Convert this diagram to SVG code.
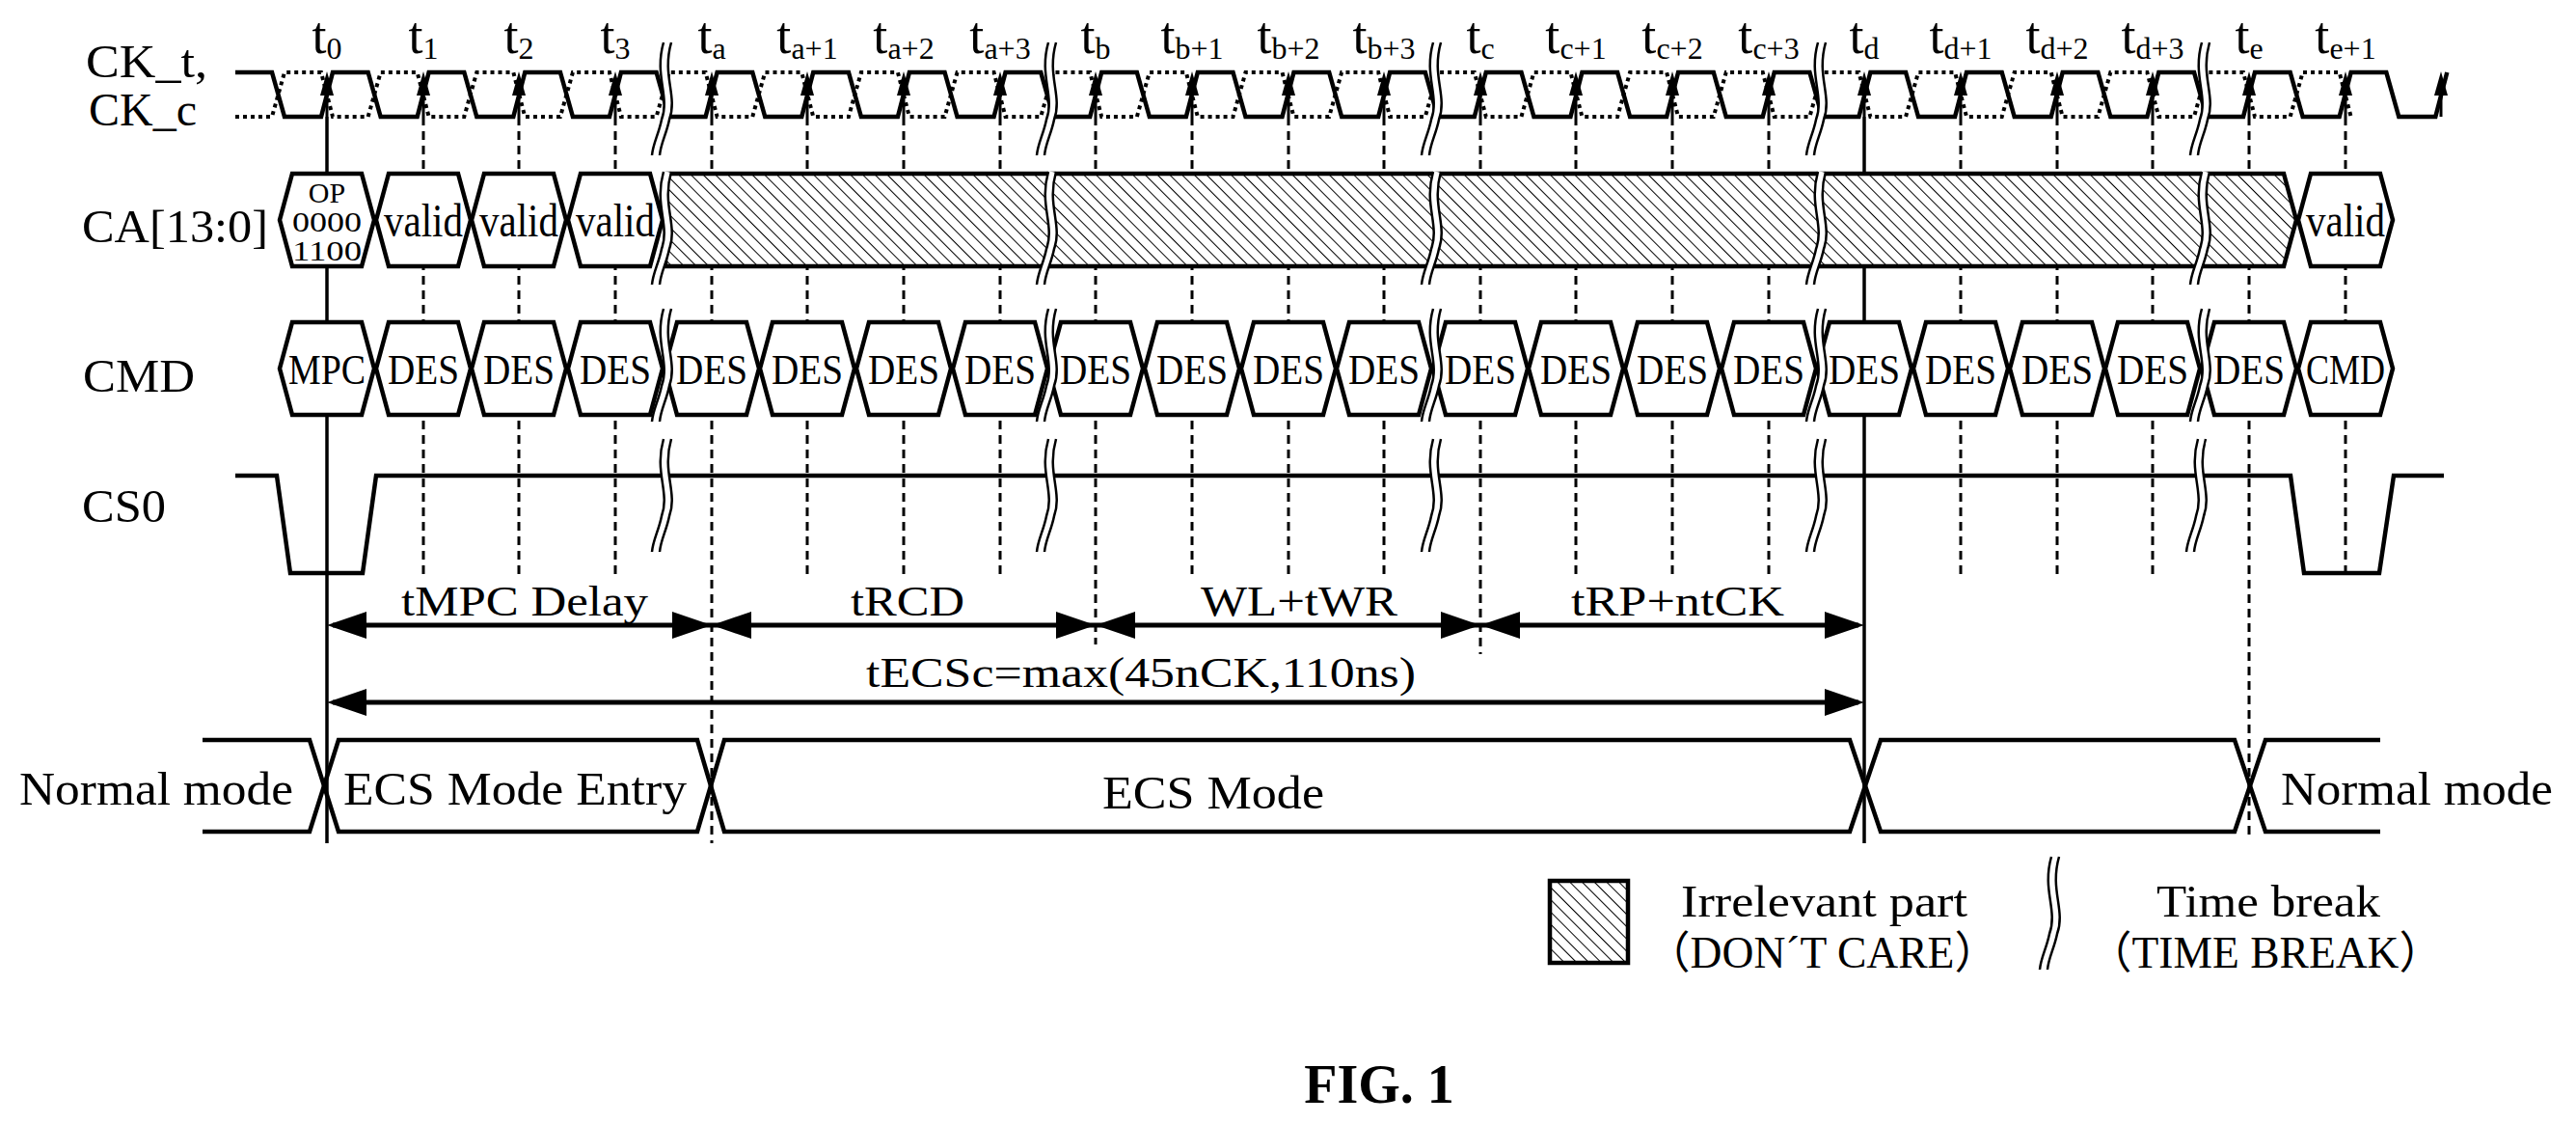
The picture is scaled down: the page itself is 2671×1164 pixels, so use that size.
<svg xmlns="http://www.w3.org/2000/svg" xmlns:xlink="http://www.w3.org/1999/xlink" width="2671" height="1164" viewBox="0 0 2671 1164">
<style>
.t{font-family:"Liberation Serif","Noto Sans CJK SC",serif;fill:#000}
.w{fill:none;stroke:#000;stroke-width:4.5;stroke-linejoin:miter}
.dot{fill:none;stroke:#000;stroke-width:4;stroke-dasharray:4 4}
.dash{stroke:#000;stroke-width:3;stroke-dasharray:9 6;fill:none}
.sol{stroke:#000;stroke-width:3.5;fill:none}
.cell{fill:#fff;stroke:#000;stroke-width:4.5}
.bl{fill:none;stroke:#000;stroke-width:2.5}
.dim{stroke:#000;stroke-width:5;fill:none}
</style>
<defs>
<pattern id="hatch" width="9" height="9" patternUnits="userSpaceOnUse" patternTransform="rotate(-45)">
<rect width="9" height="9" fill="#fff"/><line x1="0" y1="0" x2="0" y2="9" stroke="#000" stroke-width="2"/>
</pattern>
<g id="ckarrow"><line x1="0" y1="121" x2="0" y2="94" stroke="#000" stroke-width="3"/><polygon points="0,74 -7,99 7,99" fill="#000"/></g>
<polygon id="hexCA" class="cell" points="1,228 14,180 86,180 99,228 86,276 14,276"/>
<polygon id="hexCMD" class="cell" points="1,382 14,334 86,334 99,382 86,430 14,430"/>
<g id="brk">
<path d="M9,0 C-1,35 16,55 7,80 C4,95 -2,105 -3,117" stroke="#fff" stroke-width="8" fill="none"/>
<path d="M5,0 C-5,35 12,55 3,80 C0,95 -6,105 -7,117" class="bl"/>
<path d="M13,0 C3,35 20,55 11,80 C8,95 2,105 1,117" class="bl"/>
</g>
</defs>

<g id="labels">
<text class="t" x="89" y="80" font-size="48" textLength="126" lengthAdjust="spacingAndGlyphs">CK_t,</text>
<text class="t" x="92" y="130" font-size="48" textLength="112" lengthAdjust="spacingAndGlyphs">CK_c</text>
<text class="t" x="85" y="251" font-size="48" textLength="193" lengthAdjust="spacingAndGlyphs">CA[13:0]</text>
<text class="t" x="86" y="406" font-size="48" textLength="116" lengthAdjust="spacingAndGlyphs">CMD</text>
<text class="t" x="85" y="541" font-size="48" textLength="87" lengthAdjust="spacingAndGlyphs">CS0</text>
</g>

<g id="ticks" class="t" font-size="54" text-anchor="middle">
<text x="339" y="55">t<tspan font-size="32" dy="6">0</tspan></text>
<text x="439" y="55">t<tspan font-size="32" dy="6">1</tspan></text>
<text x="538" y="55">t<tspan font-size="32" dy="6">2</tspan></text>
<text x="638" y="55">t<tspan font-size="32" dy="6">3</tspan></text>
<text x="738" y="55">t<tspan font-size="32" dy="6">a</tspan></text>
<text x="837" y="55">t<tspan font-size="32" dy="6">a+1</tspan></text>
<text x="937" y="55">t<tspan font-size="32" dy="6">a+2</tspan></text>
<text x="1037" y="55">t<tspan font-size="32" dy="6">a+3</tspan></text>
<text x="1136" y="55">t<tspan font-size="32" dy="6">b</tspan></text>
<text x="1236" y="55">t<tspan font-size="32" dy="6">b+1</tspan></text>
<text x="1336" y="55">t<tspan font-size="32" dy="6">b+2</tspan></text>
<text x="1435" y="55">t<tspan font-size="32" dy="6">b+3</tspan></text>
<text x="1535" y="55">t<tspan font-size="32" dy="6">c</tspan></text>
<text x="1634" y="55">t<tspan font-size="32" dy="6">c+1</tspan></text>
<text x="1734" y="55">t<tspan font-size="32" dy="6">c+2</tspan></text>
<text x="1834" y="55">t<tspan font-size="32" dy="6">c+3</tspan></text>
<text x="1933" y="55">t<tspan font-size="32" dy="6">d</tspan></text>
<text x="2033" y="55">t<tspan font-size="32" dy="6">d+1</tspan></text>
<text x="2133" y="55">t<tspan font-size="32" dy="6">d+2</tspan></text>
<text x="2232" y="55">t<tspan font-size="32" dy="6">d+3</tspan></text>
<text x="2332" y="55">t<tspan font-size="32" dy="6">e</tspan></text>
<text x="2432" y="55">t<tspan font-size="32" dy="6">e+1</tspan></text>
</g>

<g id="connectors">
<g id="verticals">
<line class="sol" x1="339" y1="121" x2="339" y2="874"/>
<line class="sol" x1="1933" y1="121" x2="1933" y2="874"/>
<line class="dash" x1="439" y1="121" x2="439" y2="595"/>
<line class="dash" x1="538" y1="121" x2="538" y2="595"/>
<line class="dash" x1="638" y1="121" x2="638" y2="595"/>
<line class="dash" x1="738" y1="121" x2="738" y2="874"/>
<line class="dash" x1="837" y1="121" x2="837" y2="595"/>
<line class="dash" x1="937" y1="121" x2="937" y2="595"/>
<line class="dash" x1="1037" y1="121" x2="1037" y2="595"/>
<line class="dash" x1="1136" y1="121" x2="1136" y2="668"/>
<line class="dash" x1="1236" y1="121" x2="1236" y2="595"/>
<line class="dash" x1="1336" y1="121" x2="1336" y2="595"/>
<line class="dash" x1="1435" y1="121" x2="1435" y2="595"/>
<line class="dash" x1="1535" y1="121" x2="1535" y2="678"/>
<line class="dash" x1="1634" y1="121" x2="1634" y2="595"/>
<line class="dash" x1="1734" y1="121" x2="1734" y2="595"/>
<line class="dash" x1="1834" y1="121" x2="1834" y2="595"/>
<line class="dash" x1="2033" y1="121" x2="2033" y2="595"/>
<line class="dash" x1="2133" y1="121" x2="2133" y2="595"/>
<line class="dash" x1="2232" y1="121" x2="2232" y2="595"/>
<line class="dash" x1="2332" y1="121" x2="2332" y2="866"/>
<line class="dash" x1="2432" y1="121" x2="2432" y2="600"/>
</g>
<g id="dims">
<line class="dim" x1="345" y1="648" x2="1927" y2="648"/>
<polygon points="339,648 380,634 380,662"/><polygon points="738,648 697,634 697,662"/>
<polygon points="738,648 779,634 779,662"/><polygon points="1136,648 1095,634 1095,662"/>
<polygon points="1136,648 1177,634 1177,662"/><polygon points="1535,648 1494,634 1494,662"/>
<polygon points="1535,648 1576,634 1576,662"/><polygon points="1933,648 1892,634 1892,662"/>
<line class="dim" x1="345" y1="728" x2="1927" y2="728"/>
<polygon points="339,728 380,714 380,742"/><polygon points="1933,728 1892,714 1892,742"/>
</g>
</g>

<g id="clock">
<path class="w" d="M244,75 H282 l13,46 h38 l12,-46 h36.65 l13,46 h38 l12,-46 h36.65 l13,46 h38 l12,-46 h36.65 l13,46 h38 l12,-46 h36.65 l13,46 h38 l12,-46 h36.65 l13,46 h38 l12,-46 h36.65 l13,46 h38 l12,-46 h36.65 l13,46 h38 l12,-46 h36.65 l13,46 h38 l12,-46 h36.65 l13,46 h38 l12,-46 h36.65 l13,46 h38 l12,-46 h36.65 l13,46 h38 l12,-46 h36.65 l13,46 h38 l12,-46 h36.65 l13,46 h38 l12,-46 h36.65 l13,46 h38 l12,-46 h36.65 l13,46 h38 l12,-46 h36.65 l13,46 h38 l12,-46 h36.65 l13,46 h38 l12,-46 h36.65 l13,46 h38 l12,-46 h36.65 l13,46 h38 l12,-46 h36.65 l13,46 h38 l12,-46 h36.65 l13,46 h38 l12,-46 h36.65 l13,46 h38 l12,-46"/>
<path class="dot" d="M244,121 H282 l13,-46 h38 l12,46 h36.65 l13,-46 h38 l12,46 h36.65 l13,-46 h38 l12,46 h36.65 l13,-46 h38 l12,46 h36.65 l13,-46 h38 l12,46 h36.65 l13,-46 h38 l12,46 h36.65 l13,-46 h38 l12,46 h36.65 l13,-46 h38 l12,46 h36.65 l13,-46 h38 l12,46 h36.65 l13,-46 h38 l12,46 h36.65 l13,-46 h38 l12,46 h36.65 l13,-46 h38 l12,46 h36.65 l13,-46 h38 l12,46 h36.65 l13,-46 h38 l12,46 h36.65 l13,-46 h38 l12,46 h36.65 l13,-46 h38 l12,46 h36.65 l13,-46 h38 l12,46 h36.65 l13,-46 h38 l12,46 h36.65 l13,-46 h38 l12,46 h36.65 l13,-46 h38 l12,46 h36.65 l13,-46 h38 l12,46 h36.65 l13,-46 h38 l12,46"/>
<use href="#ckarrow" x="339"/><use href="#ckarrow" x="439"/><use href="#ckarrow" x="538"/><use href="#ckarrow" x="638"/>
<use href="#ckarrow" x="738"/><use href="#ckarrow" x="837"/><use href="#ckarrow" x="937"/><use href="#ckarrow" x="1037"/>
<use href="#ckarrow" x="1136"/><use href="#ckarrow" x="1236"/><use href="#ckarrow" x="1336"/><use href="#ckarrow" x="1435"/>
<use href="#ckarrow" x="1535"/><use href="#ckarrow" x="1634"/><use href="#ckarrow" x="1734"/><use href="#ckarrow" x="1834"/>
<use href="#ckarrow" x="1933"/><use href="#ckarrow" x="2033"/><use href="#ckarrow" x="2133"/><use href="#ckarrow" x="2232"/>
<use href="#ckarrow" x="2332"/><use href="#ckarrow" x="2432"/><use href="#ckarrow" x="2531"/>
</g>

<g id="ca">
<use href="#hexCA" x="289"/><use href="#hexCA" x="389"/><use href="#hexCA" x="488"/><use href="#hexCA" x="588"/>
<polygon points="690,180 2368,180 2381,228 2368,276 690,276" fill="url(#hatch)" stroke="#000" stroke-width="4.5"/>
<use href="#hexCA" x="2382"/>
<g class="t" text-anchor="middle">
<text x="339" y="210" font-size="30">OP</text>
<text x="339" y="240" font-size="30" textLength="72" lengthAdjust="spacingAndGlyphs">0000</text>
<text x="339" y="270" font-size="30" textLength="72" lengthAdjust="spacingAndGlyphs">1100</text>
<text x="439" y="245" font-size="48" textLength="82" lengthAdjust="spacingAndGlyphs">valid</text>
<text x="538" y="245" font-size="48" textLength="82" lengthAdjust="spacingAndGlyphs">valid</text>
<text x="638" y="245" font-size="48" textLength="82" lengthAdjust="spacingAndGlyphs">valid</text>
<text x="2432" y="245" font-size="48" textLength="82" lengthAdjust="spacingAndGlyphs">valid</text>
</g>
</g>

<g id="cmd">
<use href="#hexCMD" x="289"/><use href="#hexCMD" x="389"/><use href="#hexCMD" x="488"/><use href="#hexCMD" x="588"/>
<use href="#hexCMD" x="688"/><use href="#hexCMD" x="787"/><use href="#hexCMD" x="887"/><use href="#hexCMD" x="987"/>
<use href="#hexCMD" x="1086"/><use href="#hexCMD" x="1186"/><use href="#hexCMD" x="1286"/><use href="#hexCMD" x="1385"/>
<use href="#hexCMD" x="1485"/><use href="#hexCMD" x="1584"/><use href="#hexCMD" x="1684"/><use href="#hexCMD" x="1784"/>
<use href="#hexCMD" x="1883"/><use href="#hexCMD" x="1983"/><use href="#hexCMD" x="2083"/><use href="#hexCMD" x="2182"/>
<use href="#hexCMD" x="2282"/><use href="#hexCMD" x="2382"/>
<g class="t" text-anchor="middle" font-size="44">
<text x="339" y="398" textLength="80" lengthAdjust="spacingAndGlyphs">MPC</text>
<text x="439" y="398" textLength="74" lengthAdjust="spacingAndGlyphs">DES</text><text x="538" y="398" textLength="74" lengthAdjust="spacingAndGlyphs">DES</text><text x="638" y="398" textLength="74" lengthAdjust="spacingAndGlyphs">DES</text>
<text x="738" y="398" textLength="74" lengthAdjust="spacingAndGlyphs">DES</text><text x="837" y="398" textLength="74" lengthAdjust="spacingAndGlyphs">DES</text><text x="937" y="398" textLength="74" lengthAdjust="spacingAndGlyphs">DES</text><text x="1037" y="398" textLength="74" lengthAdjust="spacingAndGlyphs">DES</text>
<text x="1136" y="398" textLength="74" lengthAdjust="spacingAndGlyphs">DES</text><text x="1236" y="398" textLength="74" lengthAdjust="spacingAndGlyphs">DES</text><text x="1336" y="398" textLength="74" lengthAdjust="spacingAndGlyphs">DES</text><text x="1435" y="398" textLength="74" lengthAdjust="spacingAndGlyphs">DES</text>
<text x="1535" y="398" textLength="74" lengthAdjust="spacingAndGlyphs">DES</text><text x="1634" y="398" textLength="74" lengthAdjust="spacingAndGlyphs">DES</text><text x="1734" y="398" textLength="74" lengthAdjust="spacingAndGlyphs">DES</text><text x="1834" y="398" textLength="74" lengthAdjust="spacingAndGlyphs">DES</text>
<text x="1933" y="398" textLength="74" lengthAdjust="spacingAndGlyphs">DES</text><text x="2033" y="398" textLength="74" lengthAdjust="spacingAndGlyphs">DES</text><text x="2133" y="398" textLength="74" lengthAdjust="spacingAndGlyphs">DES</text><text x="2232" y="398" textLength="74" lengthAdjust="spacingAndGlyphs">DES</text>
<text x="2332" y="398" textLength="74" lengthAdjust="spacingAndGlyphs">DES</text>
<text x="2432" y="398" textLength="82" lengthAdjust="spacingAndGlyphs">CMD</text>
</g>
</g>

<g id="cs0">
<path class="w" d="M244,493 H287 L301,594 H376 L390,493 H2375 L2389,594 H2467 L2482,493 H2534"/>
</g>

<g id="breaks">
<use href="#brk" transform="translate(683,44)"/><use href="#brk" transform="translate(683,178)"/><use href="#brk" transform="translate(683,320)"/><use href="#brk" transform="translate(683,455)"/>
<use href="#brk" transform="translate(1082,44)"/><use href="#brk" transform="translate(1082,178)"/><use href="#brk" transform="translate(1082,320)"/><use href="#brk" transform="translate(1082,455)"/>
<use href="#brk" transform="translate(1481,44)"/><use href="#brk" transform="translate(1481,178)"/><use href="#brk" transform="translate(1481,320)"/><use href="#brk" transform="translate(1481,455)"/>
<use href="#brk" transform="translate(1880,44)"/><use href="#brk" transform="translate(1880,178)"/><use href="#brk" transform="translate(1880,320)"/><use href="#brk" transform="translate(1880,455)"/>
<use href="#brk" transform="translate(2278,44)"/><use href="#brk" transform="translate(2278,178)"/><use href="#brk" transform="translate(2278,320)"/><use href="#brk" transform="translate(2274,455)"/>
</g>

<g id="dimlabels" class="t" font-size="44">
<text x="416" y="638" textLength="256" lengthAdjust="spacingAndGlyphs">tMPC Delay</text>
<text x="882" y="638" textLength="118" lengthAdjust="spacingAndGlyphs">tRCD</text>
<text x="1245" y="638" textLength="204" lengthAdjust="spacingAndGlyphs">WL+tWR</text>
<text x="1629" y="638" textLength="221" lengthAdjust="spacingAndGlyphs">tRP+ntCK</text>
<text x="898" y="712" textLength="570" lengthAdjust="spacingAndGlyphs">tECSc=max(45nCK,110ns)</text>
</g>

<g id="mode">
<path class="w" d="M210,767 H321 L351,862 H723 L751,767 H1918 L1950,862 H2317 L2349,767 H2468"/>
<path class="w" d="M210,862 H321 L351,767 H723 L751,862 H1918 L1950,767 H2317 L2349,862 H2468"/>
<g class="t" font-size="48">
<text x="20" y="834" textLength="284" lengthAdjust="spacingAndGlyphs">Normal mode</text>
<text x="356" y="834" textLength="356" lengthAdjust="spacingAndGlyphs">ECS Mode Entry</text>
<text x="1143" y="838" textLength="230" lengthAdjust="spacingAndGlyphs">ECS Mode</text>
<text x="2365" y="834" textLength="282" lengthAdjust="spacingAndGlyphs">Normal mode</text>
</g>
</g>

<g id="legend">
<rect x="1607" y="913" width="81" height="85" fill="url(#hatch)" stroke="#000" stroke-width="4.5"/>
<use href="#brk" transform="translate(2122,888)"/>
<g class="t" font-size="46">
<text x="1743" y="950" textLength="297" lengthAdjust="spacingAndGlyphs">Irrelevant part</text>
<text x="1707" y="1003" textLength="365" lengthAdjust="spacingAndGlyphs">（DON´T CARE）</text>
<text x="2236" y="950" textLength="232" lengthAdjust="spacingAndGlyphs">Time break</text>
<text x="2165" y="1003" textLength="368" lengthAdjust="spacingAndGlyphs">（TIME BREAK）</text>
</g>
</g>

<text class="t" x="1430" y="1143" font-size="56" font-weight="bold" text-anchor="middle">FIG. 1</text>
</svg>
